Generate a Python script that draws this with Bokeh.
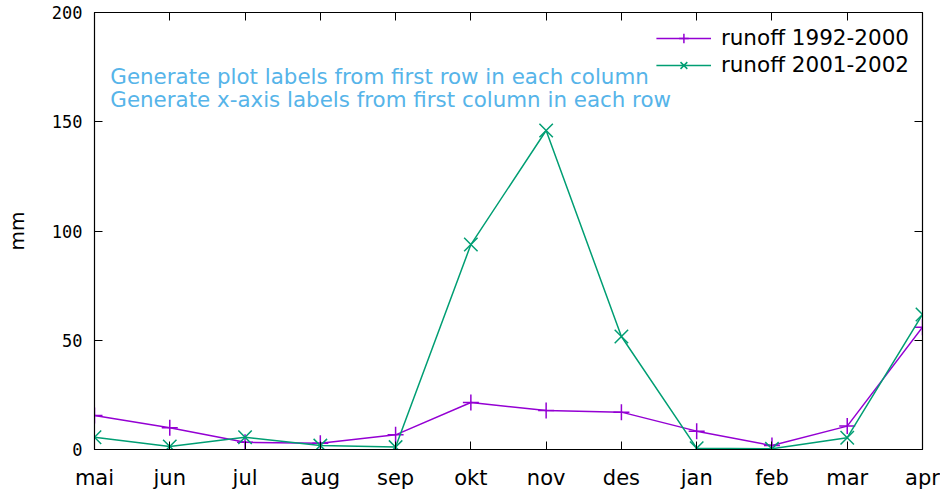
from bokeh.plotting import figure
from bokeh.models import (Range1d, FixedTicker, LinearAxis, Label, Legend, LegendItem)
from bokeh.embed import file_html
from bokeh.resources import INLINE

months = ["mai", "jun", "jul", "aug", "sep", "okt", "nov", "des", "jan", "feb", "mar", "apr"]
runoff_1992_2000 = [15.6, 10.0, 3.3, 2.9, 6.7, 21.5, 17.8, 17.1, 8.4, 1.8, 10.7, 56.0]
runoff_2001_2002 = [5.6, 1.4, 5.6, 1.8, 1.1, 93.8, 146.0, 51.7, 0.6, 0.3, 5.4, 61.8]
y_ticks = [0, 50, 100, 150, 200]
series_names = ["runoff 1992-2000", "runoff 2001-2002"]
notes = ["Generate plot labels from first row in each column",
         "Generate x-axis labels from first column in each row"]

xs = list(range(len(months)))

p = figure(frame_width=828, frame_height=437, output_backend="svg", toolbar_location=None,
           x_range=Range1d(0, len(months) - 1), y_range=Range1d(0, 200),
           min_border_left=94, min_border_right=18, min_border_top=12, min_border_bottom=39,
           x_axis_location="below", y_axis_location="left")
p.xgrid.visible = False
p.ygrid.visible = False
p.outline_line_color = "black"
p.outline_line_width = 1.2
p.background_fill_color = "white"
p.border_fill_color = "white"

# bottom axis
xa = p.xaxis[0]
xa.ticker = FixedTicker(ticks=xs)
xa.major_label_overrides = {i: m for i, m in enumerate(months)}
xa.major_label_text_font = "DejaVu Sans"
xa.major_label_text_font_size = "21px"
xa.major_label_text_color = "black"
xa.major_tick_in = 8
xa.major_tick_out = 0
xa.minor_tick_line_color = None
xa.major_label_standoff = 16
xa.axis_line_color = "black"

# left axis
ya = p.yaxis[0]
ya.ticker = FixedTicker(ticks=y_ticks)
ya.major_label_text_font = "DejaVu Sans Mono"
ya.major_label_text_font_size = "17px"
ya.major_label_text_color = "black"
ya.major_tick_in = 8
ya.major_tick_out = 0
ya.minor_tick_line_color = None
ya.major_label_standoff = 12
ya.axis_label = "mm"
ya.axis_label_text_font = "DejaVu Sans"
ya.axis_label_text_font_size = "20px"
ya.axis_label_text_font_style = "normal"
ya.axis_label_text_color = "black"
ya.axis_label_standoff = 20

# mirrored axes (ticks only)
ra = LinearAxis(ticker=FixedTicker(ticks=y_ticks), major_tick_in=8, major_tick_out=0,
                minor_tick_line_color=None, major_label_text_color=None,
                major_label_text_font_size="1px", major_label_standoff=0,
                axis_line_color="black")
ta = LinearAxis(ticker=FixedTicker(ticks=xs), major_tick_in=8, major_tick_out=0,
                minor_tick_line_color=None, major_label_text_color=None,
                major_label_text_font_size="1px", major_label_standoff=0,
                axis_line_color="black")
p.add_layout(ra, "right")
p.add_layout(ta, "above")

purple = "#9400d3"
green = "#009e73"

l1 = p.line(xs, runoff_1992_2000, line_color=purple, line_width=1.5)
m1 = p.scatter(xs, runoff_1992_2000, marker="cross", size=16, line_color=purple, line_width=1.5)
l2 = p.line(xs, runoff_2001_2002, line_color=green, line_width=1.5)
m2 = p.scatter(xs, runoff_2001_2002, marker="x", size=19, line_color=green, line_width=1.5)

legend = Legend(items=[LegendItem(label=series_names[0], renderers=[l1, m1]),
                       LegendItem(label=series_names[1], renderers=[l2, m2])],
                location="top_right", border_line_color=None, background_fill_alpha=0,
                label_text_font="DejaVu Sans", label_text_font_size="21.5px",
                label_text_color="black",
                glyph_width=55, glyph_height=24, label_height=24, spacing=2,
                padding=0, margin=13, label_standoff=10)
p.add_layout(legend)

for txt, yv in zip(notes, [170.7, 160.2]):
    p.add_layout(Label(x=0.21, y=yv, text=txt, text_color="#56b4e9",
                       text_font="DejaVu Sans", text_font_size="21.4px",
                       text_baseline="alphabetic", text_align="left"))

open("out.html", "w").write(file_html(p, INLINE))
